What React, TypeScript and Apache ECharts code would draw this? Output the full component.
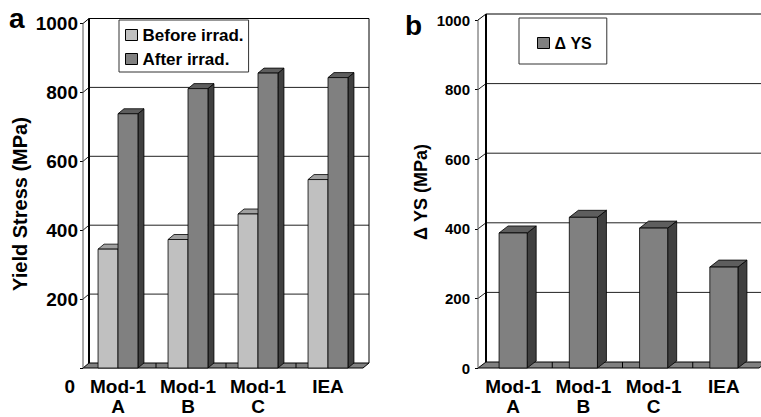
import React, { useEffect, useRef } from "react";
import * as echarts from "echarts";

const categories = ["Mod-1\nA", "Mod-1\nB", "Mod-1\nC", "IEA"];
const beforeIrrad = [345, 373, 447, 547];
const afterIrrad = [738, 811, 856, 843];
const deltaYS = [388, 433, 402, 290];
const yTicks = [0, 200, 400, 600, 800, 1000];

const FONT = "'Liberation Sans', Arial, sans-serif";

type Colors = { front: string; top: string; side: string };
const cBefore: Colors = { front: "#c0c0c0", top: "#a0a0a0", side: "#707070" };
const cAfter: Colors = { front: "#808080", top: "#5e5e5e", side: "#404040" };

function wallsRender(dx: number, dy: number, n: number) {
  return (params: any, api: any) => {
    const cs = params.coordSys;
    const L = cs.x, R = cs.x + cs.width, T = cs.y, B = cs.y + cs.height;
    const children: any[] = [];
    children.push({
      type: "polygon",
      shape: { points: [[L, B], [R, B], [R + dx, B + dy], [L + dx, B + dy]] },
      style: { fill: "#808080", stroke: "#000", lineWidth: 1 },
    });
    for (let i = 1; i < n; i++) {
      const x = L + (i * cs.width) / n;
      children.push({
        type: "line",
        shape: { x1: x + dx / 2, y1: B, x2: x + dx / 2, y2: B + dy },
        style: { stroke: "#000", lineWidth: 1 },
      });
    }
    yTicks.forEach((v) => {
      if (v === 0) return;
      const y = api.coord([0, v])[1];
      children.push({
        type: "polyline",
        shape: { points: [[L, y], [L + dx, y + dy], [R + dx, y + dy]] },
        style: { stroke: v === 1000 ? "#000" : "#222", lineWidth: 1, fill: null },
      });
    });
    children.push({
      type: "line",
      shape: { x1: R + dx, y1: T + dy, x2: R + dx, y2: B + dy },
      style: { stroke: "#000", lineWidth: 1 },
    });
    children.push({
      type: "line",
      shape: { x1: L, y1: T, x2: L, y2: B },
      style: { stroke: "#555", lineWidth: 1 },
    });
    children.push({
      type: "line",
      shape: { x1: L + dx, y1: T + dy, x2: L + dx, y2: B + dy },
      style: { stroke: "#000", lineWidth: 2 },
    });
    return { type: "group", children };
  };
}

function barRender(sIdx: number, nSeries: number, ratio: number, bdx: number, bdy: number, c: Colors) {
  return (params: any, api: any) => {
    const idx = api.value(0);
    const val = api.value(1);
    const [xc, yTop] = api.coord([idx, val]);
    const y0 = api.coord([idx, 0])[1];
    const barW = api.size([1, 0])[0] * ratio;
    const x1 = xc - (nSeries * barW) / 2 + sIdx * barW;
    const x2 = x1 + barW;
    const st = { stroke: "#000", lineWidth: 0.8 };
    return {
      type: "group",
      children: [
        {
          type: "polygon",
          shape: { points: [[x2, yTop], [x2 + bdx, yTop + bdy], [x2 + bdx, y0 + bdy], [x2, y0]] },
          style: { ...st, fill: c.side },
        },
        {
          type: "polygon",
          shape: { points: [[x1, yTop], [x2, yTop], [x2 + bdx, yTop + bdy], [x1 + bdx, yTop + bdy]] },
          style: { ...st, fill: c.top },
        },
        {
          type: "rect",
          shape: { x: x1, y: yTop, width: barW, height: y0 - yTop },
          style: { ...st, fill: c.front },
        },
      ],
    };
  };
}

export default function App() {
  const ref = useRef<HTMLDivElement>(null);
  useEffect(() => {
    if (!ref.current) return;
    const chart = echarts.init(ref.current, undefined, { renderer: "svg" });
    const xAxisBase = {
      type: "category",
      data: categories,
      axisLine: { show: false },
      axisTick: { show: false },
      axisLabel: {
        interval: 0,
        color: "#000",
        fontFamily: FONT,
        fontWeight: "bold",
        fontSize: 19,
        lineHeight: 20,
        margin: 8,
      },
    };
    const yAxisBase = {
      type: "value",
      min: 0,
      max: 1000,
      interval: 200,
      splitLine: { show: false },
      axisLine: { show: false },
      axisTick: { show: true, length: 3, lineStyle: { color: "#000" } },
    };
    chart.setOption({
      animation: false,
      backgroundColor: "#fff",
      grid: [
        { left: 83, top: 23.5, width: 280, height: 344.5, outerBoundsMode: "none", containLabel: false },
        { left: 478, top: 20, width: 281, height: 348, outerBoundsMode: "none", containLabel: false },
      ],
      xAxis: [
        { ...xAxisBase, gridIndex: 0 },
        { ...xAxisBase, gridIndex: 1 },
      ],
      yAxis: [
        {
          ...yAxisBase,
          gridIndex: 0,
          axisLabel: {
            color: "#000",
            fontFamily: FONT,
            fontWeight: "bold",
            fontSize: 19,
            margin: 5,
            formatter: (v: number) => (v === 0 ? "{z|0}" : String(v)),
            rich: {
              z: { fontFamily: FONT, fontWeight: "bold", fontSize: 19, color: "#000", padding: [36, 3, 0, 0] },
            },
          },
        },
        {
          ...yAxisBase,
          gridIndex: 1,
          axisLabel: {
            color: "#000",
            fontFamily: FONT,
            fontWeight: "bold",
            fontSize: 15,
            margin: 8,
            formatter: (v: number) => String(v),
          },
        },
      ],
      legend: [
        {
          data: ["Before irrad.", "After irrad."],
          orient: "vertical",
          left: 119,
          top: 20,
          padding: [5, 5, 3, 6],
          itemWidth: 12,
          itemHeight: 11,
          itemGap: 4,
          icon: "rect",
          itemStyle: { borderColor: "#000", borderWidth: 1 },
          borderColor: "#333",
          borderWidth: 1,
          backgroundColor: "#fff",
          textStyle: { color: "#000", fontFamily: FONT, fontWeight: "bold", fontSize: 17, lineHeight: 20 },
        },
        {
          data: ["Δ YS"],
          orient: "vertical",
          left: 519,
          top: 18,
          padding: [15, 15, 11, 18],
          itemWidth: 12,
          itemHeight: 11,
          icon: "rect",
          itemStyle: { borderColor: "#000", borderWidth: 1 },
          borderColor: "#333",
          borderWidth: 1,
          backgroundColor: "#fff",
          textStyle: { color: "#000", fontFamily: FONT, fontWeight: "bold", fontSize: 16, lineHeight: 20 },
        },
      ],
      graphic: [
        { type: "text", x: 9, y: 18, style: { text: "a", fontFamily: FONT, fontWeight: "bold", fontSize: 28, fill: "#000", align: "left", verticalAlign: "middle" } },
        { type: "text", x: 405, y: 25, style: { text: "b", fontFamily: FONT, fontWeight: "bold", fontSize: 28, fill: "#000", align: "left", verticalAlign: "middle" } },
        { type: "text", x: 20, y: 204, rotation: Math.PI / 2, style: { text: "Yield Stress (MPa)", fontFamily: FONT, fontWeight: "bold", fontSize: 20, fill: "#000", align: "center", verticalAlign: "middle" } },
        { type: "text", x: 421, y: 192, rotation: Math.PI / 2, style: { text: "Δ YS (MPa)", fontFamily: FONT, fontWeight: "bold", fontSize: 18, fill: "#000", align: "center", verticalAlign: "middle" } },
      ],
      series: [
        {
          type: "custom",
          name: "wallsA",
          xAxisIndex: 0,
          yAxisIndex: 0,
          silent: true,
          z: 1,
          data: [[0, 0]],
          encode: { x: 0, y: 1 },
          renderItem: wallsRender(6, -5, categories.length),
        },
        {
          type: "custom",
          name: "Before irrad.",
          xAxisIndex: 0,
          yAxisIndex: 0,
          z: 3,
          itemStyle: { color: cBefore.front },
          data: beforeIrrad.map((v, i) => [i, v]),
          encode: { x: 0, y: 1 },
          renderItem: barRender(0, 2, 0.285, 6, -5, cBefore),
        },
        {
          type: "custom",
          name: "After irrad.",
          xAxisIndex: 0,
          yAxisIndex: 0,
          z: 3,
          itemStyle: { color: cAfter.front },
          data: afterIrrad.map((v, i) => [i, v]),
          encode: { x: 0, y: 1 },
          renderItem: barRender(1, 2, 0.285, 6, -5, cAfter),
        },
        {
          type: "custom",
          name: "wallsB",
          xAxisIndex: 1,
          yAxisIndex: 1,
          silent: true,
          z: 1,
          data: [[0, 0]],
          encode: { x: 0, y: 1 },
          renderItem: wallsRender(8, -6, categories.length),
        },
        {
          type: "custom",
          name: "Δ YS",
          xAxisIndex: 1,
          yAxisIndex: 1,
          z: 3,
          itemStyle: { color: cAfter.front },
          data: deltaYS.map((v, i) => [i, v]),
          encode: { x: 0, y: 1 },
          renderItem: barRender(0, 1, 0.4, 9, -7, cAfter),
        },
      ],
    });
    return () => chart.dispose();
  }, []);
  return (
    <div
      ref={ref}
      style={{ position: "absolute", left: 0, top: 0, width: 761, height: 417, background: "#fff" }}
    />
  );
}
